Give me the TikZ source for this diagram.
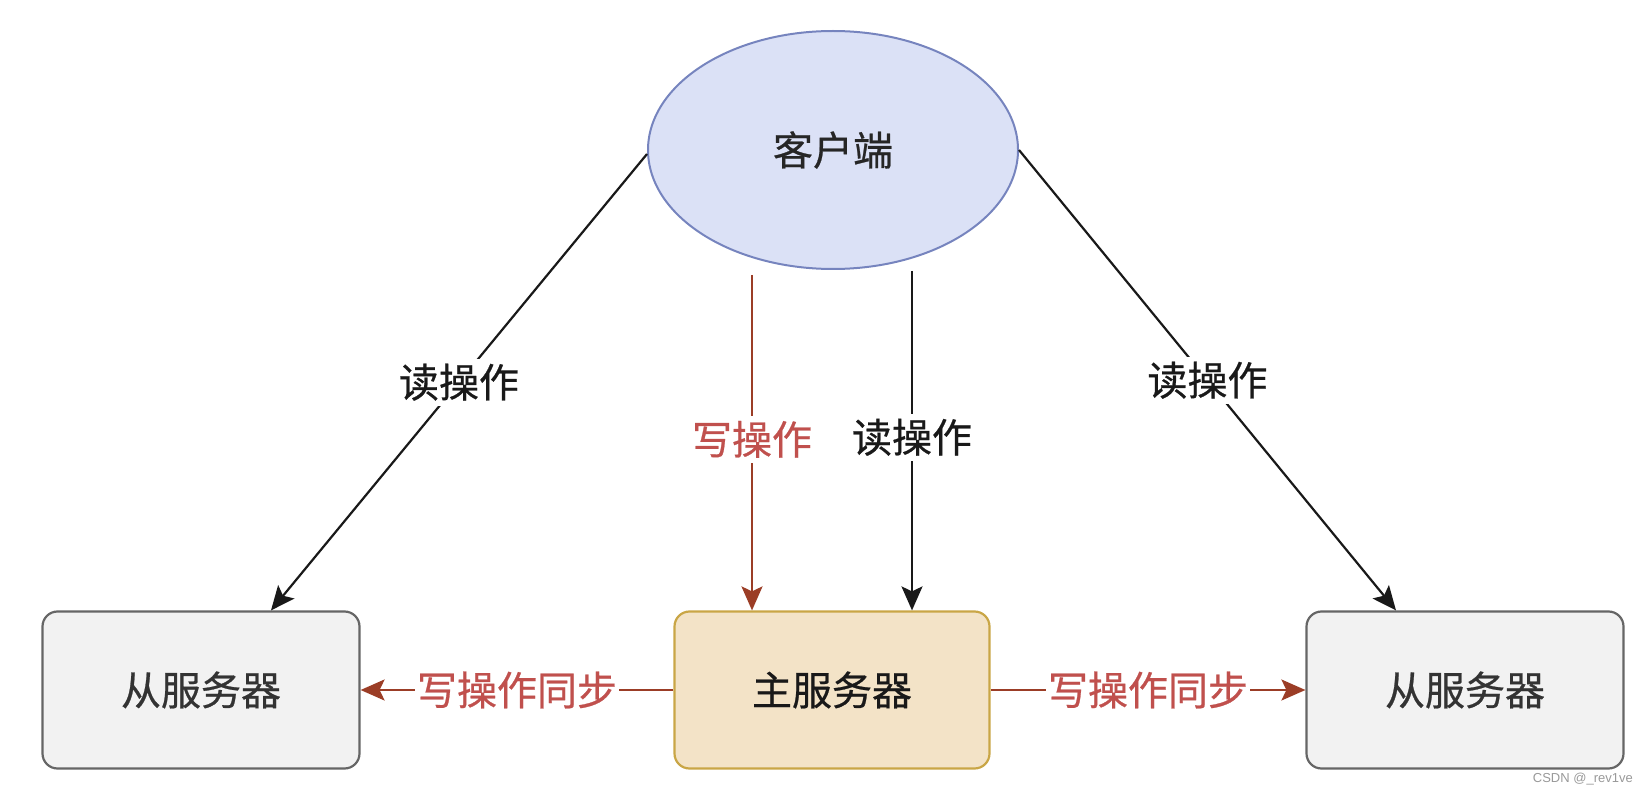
\documentclass[tikz,border=0pt]{standalone}
\usepackage{fontspec}
\newfontfamily\cjk[FakeBold=0.6]{Noto Sans CJK SC}
\setmainfont{Liberation Sans}
\usetikzlibrary{shapes.geometric,arrows.meta,calc}
\definecolor{ellfill}{HTML}{DBE1F6}
\definecolor{elldraw}{HTML}{7684BE}
\definecolor{mainfill}{HTML}{F3E3C7}
\definecolor{maindraw}{HTML}{C9A646}
\definecolor{grayfill}{HTML}{F2F2F2}
\definecolor{graydraw}{HTML}{666666}
\definecolor{redtext}{HTML}{C0504D}
\definecolor{redline}{HTML}{9B3D26}
\tikzset{
  txt/.style={font=\cjk\fontsize{40}{46}\selectfont},
  client/.style={ellipse, draw=elldraw, fill=ellfill, line width=2pt, minimum width=370, minimum height=238, inner sep=0pt, txt, text=black!85},
  mainbox/.style={rectangle, rounded corners=15pt, draw=maindraw, fill=mainfill, line width=2.2pt, minimum width=315, minimum height=157, txt, text=black!90},
  slavebox/.style={rectangle, rounded corners=15pt, draw=graydraw, fill=grayfill, line width=2.2pt, minimum width=317, minimum height=157, txt, text=black!80},
  rdarrow/.style={line width=2.2pt, draw=black!90, -{Stealth[length=24pt,width=21pt,inset=5pt]}},
  wrarrow/.style={line width=2.2pt, draw=redline, -{Stealth[length=24pt,width=21pt,inset=5pt]}},
  rdlabel/.style={txt, fill=white, inner sep=5pt, text=black!90},
  wrlabel/.style={txt, fill=white, inner sep=5pt, text=redtext},
}
\begin{document}
\begin{tikzpicture}[x=1pt,y=-1pt]
\useasboundingbox (0,0) rectangle (1634,786);
\node[client] (client) at (833,150) {客户端};
\node[slavebox] (slaveL) at (201,690) {从服务器};
\node[mainbox] (master) at (832,690) {主服务器};
\node[slavebox] (slaveR) at (1465,690) {从服务器};
\coordinate (lstart) at ($(client.west)+(0,4)$);
\coordinate (lend) at ($(slaveL.north)+(70,0)$);
\coordinate (rstart) at (client.east);
\coordinate (rend) at ($(slaveR.north)+(-69,0)$);
\coordinate (wend) at ($(master.north)+(-80,0)$);
\coordinate (wstart) at ($(client.south -| wend)+(0,5)$);
\coordinate (mend) at ($(master.north)+(80,0)$);
\coordinate (mstart) at ($(client.south -| mend)+(0,1)$);
\draw[rdarrow] (lstart) -- node[rdlabel, pos=0.5] {读操作} (lend);
\draw[rdarrow] (rstart) -- node[rdlabel, pos=0.5] {读操作} (rend);
\draw[wrarrow] (wstart) -- node[wrlabel, pos=0.49] {写操作} (wend);
\draw[rdarrow] (mstart) -- node[rdlabel, pos=0.49] {读操作} (mend);
\draw[wrarrow] (master.west) -- node[wrlabel, inner sep=2pt] {写操作同步} (slaveL.east);
\draw[wrarrow] (master.east) -- node[wrlabel, inner sep=2pt] {写操作同步} (slaveR.west);
\node[font=\fontsize{13}{14}\selectfont, text=black!40, anchor=south east, inner sep=1pt] (wm) at (1634,786) {CSDN @\_rev1ve};
\end{tikzpicture}
\end{document}
